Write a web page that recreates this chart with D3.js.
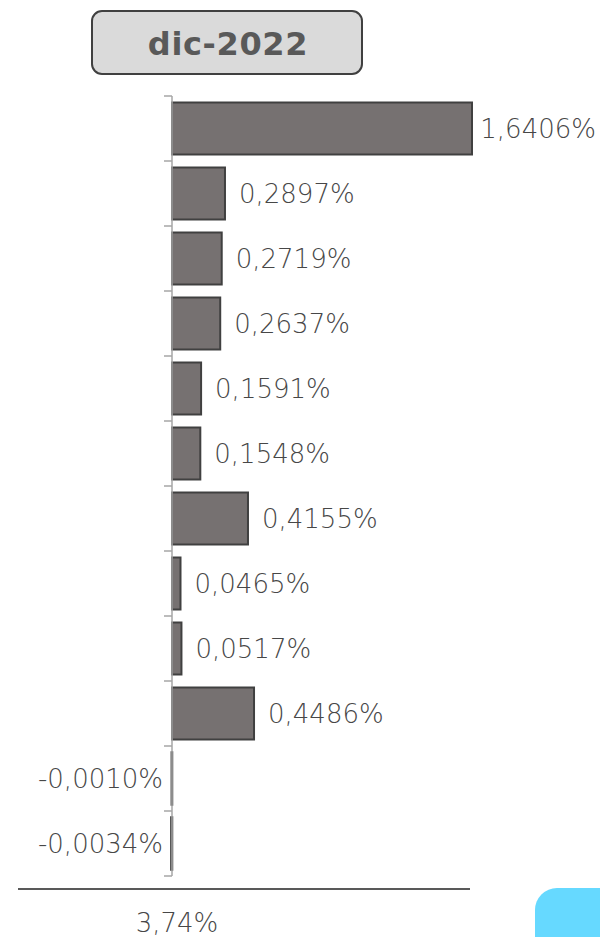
<!DOCTYPE html>
<html>
<head>
<meta charset="utf-8">
<script src="https://cdn.jsdelivr.net/npm/d3@7"></script>
<style>
  body { margin: 0; background: #fff; }
  svg { display: block; }
</style>
</head>
<body>
<div id="chart"></div>
<script>
// data
const TITLE = "dic-2022";
const VALUES = [1.6406, 0.2897, 0.2719, 0.2637, 0.1591, 0.1548, 0.4155, 0.0465, 0.0517, 0.4486, -0.0010, -0.0034];
const TOTAL_LABEL = "3,74%";

// spanish style: comma decimals, plain hyphen for minus
const fmt = v => (v < 0 ? "-" : "") + d3.format(".4f")(Math.abs(v)).replace(".", ",") + "%";

const W = 600, H = 937;
const axisX = 172;

const svg = d3.select("#chart").append("svg")
  .attr("width", W)
  .attr("height", H);

// ------- title box -------
svg.append("rect")
  .attr("x", 92).attr("y", 11)
  .attr("width", 270).attr("height", 63)
  .attr("rx", 10)
  .attr("fill", "#dadada")
  .attr("stroke", "#404040")
  .attr("stroke-width", 2);

svg.append("text")
  .attr("x", 228).attr("y", 55)
  .attr("text-anchor", "middle")
  .attr("font-family", "'DejaVu Sans', sans-serif")
  .attr("font-weight", "bold")
  .attr("font-size", 32)
  .attr("fill", "#595959")
  .style("letter-spacing", "0.02em")
  .text(TITLE);

// ------- scales -------
const idx = VALUES.map((d, i) => i);

const y = d3.scaleBand()
  .domain(idx)
  .range([96, 876])
  .paddingInner(0.2)
  .paddingOuter(0.1);

const x = d3.scaleLinear()
  .domain([0, d3.max(VALUES)])
  .range([axisX, 472]);

// ------- bars -------
svg.selectAll("rect.bar")
  .data(VALUES)
  .enter()
  .append("rect")
  .attr("class", "bar")
  .attr("x", d => Math.min(x(d), x(0)))
  .attr("y", (d, i) => y(i))
  .attr("width", d => Math.abs(x(d) - x(0)))
  .attr("height", y.bandwidth())
  .attr("fill", "#767171")
  .attr("stroke", "#404040")
  .attr("stroke-width", d => d < 0 ? 2.5 : 2);

// ------- category axis (no labels) -------
const step = y.step();
const tickYs = d3.range(VALUES.length + 1).map(i => y.range()[0] + i * step);

svg.append("line")
  .attr("x1", axisX).attr("x2", axisX)
  .attr("y1", y.range()[0]).attr("y2", y.range()[1])
  .attr("stroke", "#a6a6a6")
  .attr("stroke-width", 1.5);

svg.selectAll("line.tick")
  .data(tickYs)
  .enter()
  .append("line")
  .attr("class", "tick")
  .attr("x1", axisX - 8).attr("x2", axisX)
  .attr("y1", d => d).attr("y2", d => d)
  .attr("stroke", "#a6a6a6")
  .attr("stroke-width", 1.5);

// ------- value labels -------
const labels = svg.selectAll("text.val")
  .data(VALUES)
  .enter()
  .append("text")
  .attr("class", "val")
  .attr("x", d => d >= 0 ? x(d) + 14 : x(0) - 9)
  .attr("y", (d, i) => y(i) + y.bandwidth() / 2)
  .attr("dy", "0.35em")
  .attr("text-anchor", d => d >= 0 ? "start" : "end")
  .attr("font-family", "'DejaVu Sans', sans-serif")
  .attr("font-weight", 200)
  .attr("font-size", 26)
  .attr("fill", "#474747")
  .text(d => fmt(d));

// keep labels inside the frame
labels.each(function (d) {
  if (d < 0) return;
  const w = this.getComputedTextLength();
  const x0 = +this.getAttribute("x");
  if (x0 + w > W - 4) {
    d3.select(this).attr("x", Math.max(x(d) + 6, W - 4 - w));
  }
});

// ------- total line + label -------
svg.append("line")
  .attr("x1", 18).attr("x2", 470)
  .attr("y1", 889).attr("y2", 889)
  .attr("stroke", "#595959")
  .attr("stroke-width", 2);

svg.append("text")
  .attr("x", 177).attr("y", 932)
  .attr("text-anchor", "middle")
  .attr("font-family", "'DejaVu Sans', sans-serif")
  .attr("font-weight", 200)
  .attr("font-size", 26)
  .attr("fill", "#474747")
  .text(TOTAL_LABEL);

// ------- blue corner tab -------
svg.append("rect")
  .attr("x", 535).attr("y", 888)
  .attr("width", 100).attr("height", 100)
  .attr("rx", 22)
  .attr("fill", "#66d9ff");
</script>
</body>
</html>
